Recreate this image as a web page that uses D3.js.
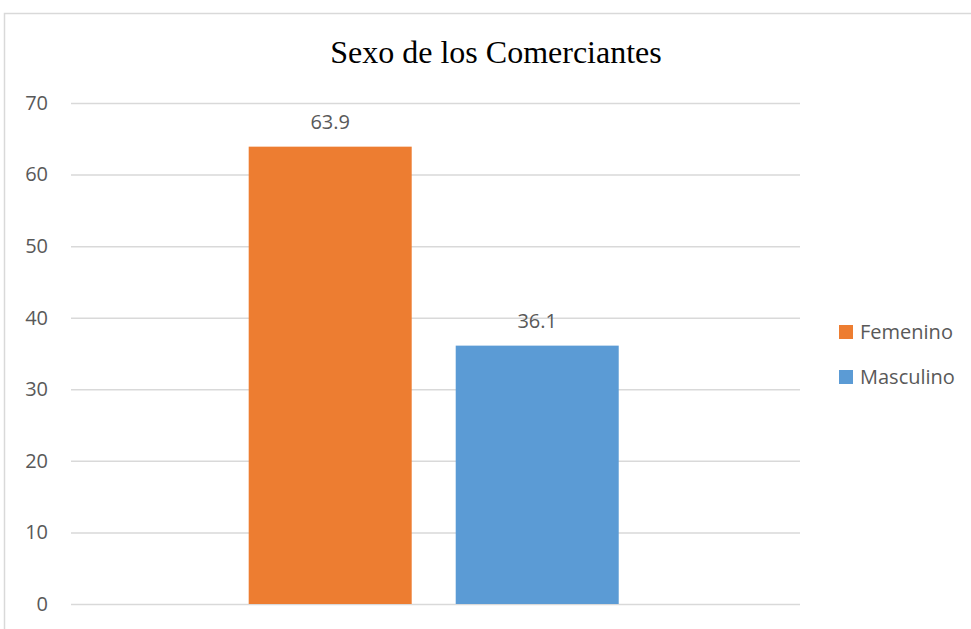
<!DOCTYPE html>
<html>
<head>
<meta charset="utf-8">
<script src="https://cdn.jsdelivr.net/npm/d3@7"></script>
<style>
  body { margin: 0; background: #fff; }
  svg { display: block; }
  .tick text, .lbl, .legend text { font-family: "Open Sans", sans-serif; fill: #595959; }
</style>
</head>
<body>
<div id="chart"></div>
<script>
var categories = ["Sexo"];
var series = ["Femenino", "Masculino"];
var values = [63.9, 36.1];
var colours = ["#ED7D31", "#5B9BD5"];
var yTicks = [0, 10, 20, 30, 40, 50, 60, 70];

var width = 971, height = 629;
var margin = {top: 103, right: 171, bottom: 25, left: 71};

var svg = d3.select("#chart").append("svg")
  .attr("width", width)
  .attr("height", height);

// chart frame (clipped at right and bottom)
svg.append("path")
  .attr("d", "M4.5," + height + "V13.5H" + width)
  .attr("fill", "none")
  .attr("stroke", "#d9d9d9")
  .attr("stroke-width", 1.5);

svg.append("text")
  .attr("x", 496)
  .attr("y", 63)
  .attr("text-anchor", "middle")
  .style("font-family", "'Liberation Serif', 'Times New Roman', serif")
  .style("font-size", "32px")
  .style("fill", "#000")
  .text("Sexo de los Comerciantes");

var y = d3.scaleLinear()
  .domain([0, 70])
  .range([height - margin.bottom, margin.top]);

var x0 = d3.scaleBand()
  .domain(categories)
  .range([margin.left, width - margin.right]);

var x1 = d3.scaleBand()
  .domain(series)
  .range([0, x0.bandwidth()])
  .paddingInner(0.2126)
  .paddingOuter(0.867)
  .align(0.495);

var g = svg.append("g");

// gridlines + labels
var yAxis = g.append("g")
  .attr("transform", "translate(" + margin.left + ",0)")
  .call(d3.axisLeft(y).tickValues(yTicks).tickSize(-(width - margin.right - margin.left)).tickPadding(23));

yAxis.select(".domain").remove();
yAxis.selectAll(".tick line")
  .attr("stroke", "#d9d9d9")
  .attr("stroke-width", 1.5);
yAxis.selectAll(".tick text")
  .style("font-size", "20px");

var grp = g.selectAll(".grp")
  .data(categories)
  .enter().append("g")
  .attr("transform", function(d) { return "translate(" + x0(d) + ",0)"; });

grp.selectAll("rect")
  .data(series.map(function(s, i) { return {key: s, value: values[i], i: i}; }))
  .enter().append("rect")
  .attr("x", function(d) { return x1(d.key); })
  .attr("y", function(d) { return y(d.value); })
  .attr("width", x1.bandwidth())
  .attr("height", function(d) { return y(0) - y(d.value); })
  .attr("fill", function(d) { return colours[d.i]; });

grp.selectAll(".lbl")
  .data(series.map(function(s, i) { return {key: s, value: values[i]}; }))
  .enter().append("text")
  .attr("class", "lbl")
  .attr("x", function(d) { return x1(d.key) + x1.bandwidth() / 2; })
  .attr("y", function(d) { return y(d.value) - 18; })
  .attr("text-anchor", "middle")
  .style("font-size", "20px")
  .text(function(d) { return d.value.toFixed(1); });

// legend
var legend = svg.append("g").attr("class", "legend")
  .selectAll("g")
  .data(series)
  .enter().append("g")
  .attr("transform", function(d, i) { return "translate(839," + (325 + i * 45) + ")"; });

legend.append("rect")
  .attr("width", 14)
  .attr("height", 14)
  .attr("fill", function(d, i) { return colours[i]; });

legend.append("text")
  .attr("x", 21)
  .attr("y", 7)
  .attr("dy", "0.35em")
  .style("font-size", "20px")
  .text(function(d) { return d; });
</script>
</body>
</html>
